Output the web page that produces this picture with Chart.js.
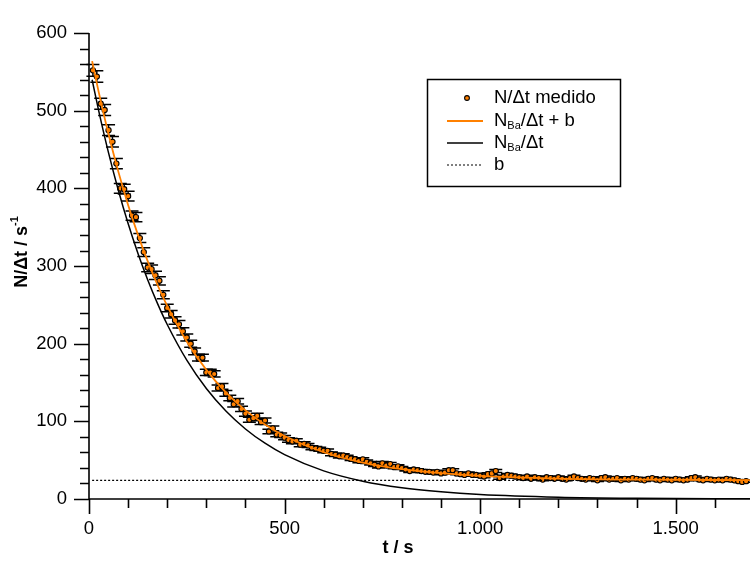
<!DOCTYPE html>
<html>
<head>
<meta charset="utf-8">
<script src="https://cdn.jsdelivr.net/npm/chart.js@4/dist/chart.umd.min.js"></script>
<style>
  html, body { margin: 0; padding: 0; background: #fff; }
  canvas { display: block; }
</style>
</head>
<body>
<canvas id="c" width="750" height="562"></canvas>
<script>
// Counting-rate decay measurement (10 s bins) and exponential fit
const BIN_WIDTH = 10; // s

const tMeasured = [
  10, 20, 30, 40, 50, 60, 70, 80, 90, 100,
  110, 120, 130, 140, 150, 160, 170, 180, 190, 200,
  210, 220, 230, 240, 250, 260, 270, 280, 290, 300,
  310, 320, 330, 340, 350, 360, 370, 380, 390, 400,
  410, 420, 430, 440, 450, 460, 470, 480, 490, 500,
  510, 520, 530, 540, 550, 560, 570, 580, 590, 600,
  610, 620, 630, 640, 650, 660, 670, 680, 690, 700,
  710, 720, 730, 740, 750, 760, 770, 780, 790, 800,
  810, 820, 830, 840, 850, 860, 870, 880, 890, 900,
  910, 920, 930, 940, 950, 960, 970, 980, 990, 1000,
  1010, 1020, 1030, 1040, 1050, 1060, 1070, 1080, 1090, 1100,
  1110, 1120, 1130, 1140, 1150, 1160, 1170, 1180, 1190, 1200,
  1210, 1220, 1230, 1240, 1250, 1260, 1270, 1280, 1290, 1300,
  1310, 1320, 1330, 1340, 1350, 1360, 1370, 1380, 1390, 1400,
  1410, 1420, 1430, 1440, 1450, 1460, 1470, 1480, 1490, 1500,
  1510, 1520, 1530, 1540, 1550, 1560, 1570, 1580, 1590, 1600,
  1610, 1620, 1630, 1640, 1650, 1660, 1670, 1680
];

const rateMeasured = [
  552, 544, 509, 501, 475, 460, 432, 400, 399, 390,
  365, 363, 336, 318, 298, 296, 288, 281, 263, 246,
  238, 230, 225, 216, 208, 200, 190, 182, 182, 163,
  163, 161, 143, 145, 136, 130, 122, 126, 116, 110,
  102, 104, 107, 99, 101, 87, 91, 83, 82, 79,
  76, 74, 75, 70, 71, 69, 66, 65, 64, 62,
  62, 58, 57, 55, 56, 54, 52, 51, 49, 51,
  48, 46, 44, 42, 46, 43, 45, 41, 42, 40,
  38, 36, 38, 37, 36, 35, 35, 34, 35, 33,
  34, 37, 37, 33, 32, 31, 33, 31, 31, 30,
  29, 32, 33, 36, 27, 29, 31, 30, 29, 28,
  27, 29, 26, 28, 27, 25, 28, 27, 26, 28,
  26, 25, 27, 29, 27, 26, 25, 27, 26, 24,
  27, 28, 25, 26, 27, 24, 26, 25, 27, 26,
  25, 24, 26, 27, 25, 24, 26, 25, 24, 26,
  25, 24, 25, 27, 28, 25, 24, 26, 25, 24,
  25, 24, 26, 25, 24, 23, 22, 23
];

// Fitted curves sampled along t
const tFit = [8, 25, 50, 75, 100, 125, 150, 175, 200, 250, 300, 350, 400, 450, 500,
              600, 700, 800, 900, 1000, 1200, 1400, 1690];
const rateFitTotal = [563.9, 523.6, 469.7, 421.6, 378.7, 340.5, 306.3, 275.9, 248.7, 202.8,
                      166.3, 137.3, 114.2, 95.8, 81.1, 60.2, 46.9, 38.5, 33.2, 29.8,
                      26.3, 24.9, 24.3];
const rateFitBa = [539.9, 499.6, 445.7, 397.6, 354.7, 316.5, 282.3, 251.9, 224.7, 178.8,
                   142.3, 113.3, 90.2, 71.8, 57.1, 36.2, 22.9, 14.5, 9.2, 5.8,
                   2.3, 0.9, 0.25];
const tBackground = [8, 1690];
const rateBackground = [24, 24];

const xTickValues = [0, 100, 200, 300, 400, 500, 600, 700, 800, 900, 1000,
                     1100, 1200, 1300, 1400, 1500, 1600];
const yTickValues = [0, 20, 40, 60, 80, 100, 120, 140, 160, 180, 200, 220, 240, 260,
                     280, 300, 320, 340, 360, 380, 400, 420, 440, 460, 480, 500,
                     520, 540, 560, 580, 600];
const xLabelled = [0, 500, 1000, 1500];
const yLabelled = [0, 100, 200, 300, 400, 500, 600];

const ORANGE = '#ff8000';
const FONT = '"Liberation Sans", Arial, sans-serif';
const TICK_SIZE = 18.5;
const TEXT_SIZE = 18.5;

const toXY = (xs, ys) => xs.map((x, i) => ({ x: x, y: ys[i] }));
const fmtThousands = v => String(v).replace(/\B(?=(\d{3})+(?!\d))/g, '.');

// Poisson uncertainty of a rate measured in one bin
const rateError = r => Math.sqrt(r * BIN_WIDTH) / BIN_WIDTH;

const errorBars = {
  id: 'errorBars',
  beforeDatasetDraw(chart, args) {
    if (args.index !== 0) return;
    const { ctx, scales: { x, y } } = chart;
    ctx.save();
    ctx.strokeStyle = '#000';
    ctx.lineWidth = 1.5;
    const cap = 6.5;
    tMeasured.forEach((t, i) => {
      const r = rateMeasured[i];
      const e = rateError(r);
      const px = x.getPixelForValue(t);
      const top = y.getPixelForValue(r + e);
      const bot = y.getPixelForValue(r - e);
      ctx.beginPath();
      ctx.moveTo(px, top); ctx.lineTo(px, bot);
      ctx.moveTo(px - cap, top); ctx.lineTo(px + cap, top);
      ctx.moveTo(px - cap, bot); ctx.lineTo(px + cap, bot);
      ctx.stroke();
    });
    ctx.restore();
  }
};

function drawRich(ctx, parts, x, y, size, weight) {
  // parts: [text, 'n' | 'sub' | 'sup']
  let cx = x;
  parts.forEach(([txt, kind]) => {
    const s = kind === 'n' ? size : Math.round(size * 0.62);
    const dy = kind === 'sub' ? size * 0.28 : kind === 'sup' ? -size * 0.38 : 0;
    ctx.font = `${weight} ${s}px ${FONT}`;
    ctx.fillText(txt, cx, y + dy);
    cx += ctx.measureText(txt).width;
  });
  return cx - x;
}

function richWidth(ctx, parts, size, weight) {
  let w = 0;
  parts.forEach(([txt, kind]) => {
    const s = kind === 'n' ? size : Math.round(size * 0.62);
    ctx.font = `${weight} ${s}px ${FONT}`;
    w += ctx.measureText(txt).width;
  });
  return w;
}

const axesAndDecor = {
  id: 'axesAndDecor',
  afterDraw(chart) {
    const { ctx, scales: { x, y } } = chart;
    const x0 = x.getPixelForValue(0);
    const y0 = y.getPixelForValue(0);
    const yTop = y.getPixelForValue(600);
    ctx.save();
    ctx.strokeStyle = '#000';
    ctx.lineWidth = 1.6;
    ctx.beginPath();
    ctx.moveTo(x0, yTop); ctx.lineTo(x0, y0);
    ctx.moveTo(x0, y0); ctx.lineTo(chart.width, y0);
    yTickValues.forEach(v => {
      const len = yLabelled.includes(v) ? 15 : 9;
      const py = Math.round(y.getPixelForValue(v)) + 0.5;
      ctx.moveTo(x0 - len, py); ctx.lineTo(x0, py);
    });
    xTickValues.forEach(v => {
      const len = xLabelled.includes(v) ? 15 : 9;
      const px = Math.round(x.getPixelForValue(v)) + 0.5;
      ctx.moveTo(px, y0); ctx.lineTo(px, y0 + len);
    });
    ctx.stroke();

    // axis titles
    ctx.fillStyle = '#000';
    ctx.textBaseline = 'middle';
    ctx.textAlign = 'left';
    const xt = [['t / s', 'n']];
    const xw = richWidth(ctx, xt, 18, 'bold');
    drawRich(ctx, xt, 398 - xw / 2, 548, 18, 'bold');

    ctx.save();
    ctx.translate(22, 252);
    ctx.rotate(-Math.PI / 2);
    const yt = [['N/\u0394t / s', 'n'], ['-1', 'sup']];
    const yw = richWidth(ctx, yt, 18, 'bold');
    drawRich(ctx, yt, -yw / 2, 0, 18, 'bold');
    ctx.restore();

    // legend
    const lx = 427.5, ly = 79.5, lw = 193, lh = 107;
    ctx.lineWidth = 1.5;
    ctx.strokeRect(lx, ly, lw, lh);
    const rows = [98, 121, 143, 165];
    const sx0 = 447, sx1 = 483, tx = 494;
    // data marker
    ctx.beginPath();
    ctx.arc(467, rows[0], 2.4, 0, Math.PI * 2);
    ctx.fillStyle = ORANGE;
    ctx.fill();
    ctx.lineWidth = 1.1;
    ctx.strokeStyle = '#000';
    ctx.stroke();
    // orange line
    ctx.beginPath();
    ctx.strokeStyle = ORANGE; ctx.lineWidth = 1.8;
    ctx.moveTo(sx0, rows[1]); ctx.lineTo(sx1, rows[1]); ctx.stroke();
    // black line
    ctx.beginPath();
    ctx.strokeStyle = '#000'; ctx.lineWidth = 1.5;
    ctx.moveTo(sx0, rows[2]); ctx.lineTo(sx1, rows[2]); ctx.stroke();
    // dotted line
    ctx.beginPath();
    ctx.setLineDash([2, 2]); ctx.lineWidth = 1.2;
    ctx.moveTo(sx0, rows[3]); ctx.lineTo(sx1, rows[3]); ctx.stroke();
    ctx.setLineDash([]);

    ctx.fillStyle = '#000';
    drawRich(ctx, [['N/\u0394t medido', 'n']], tx, rows[0], TEXT_SIZE, 'normal');
    drawRich(ctx, [['N', 'n'], ['Ba', 'sub'], ['/\u0394t + b', 'n']], tx, rows[1], TEXT_SIZE, 'normal');
    drawRich(ctx, [['N', 'n'], ['Ba', 'sub'], ['/\u0394t', 'n']], tx, rows[2], TEXT_SIZE, 'normal');
    drawRich(ctx, [['b', 'n']], tx, rows[3], TEXT_SIZE, 'normal');
    ctx.restore();
  }
};

new Chart(document.getElementById('c'), {
  type: 'scatter',
  data: {
    datasets: [
      {
        label: 'N/\u0394t medido',
        data: toXY(tMeasured, rateMeasured),
        showLine: false,
        pointRadius: 2.6,
        pointBackgroundColor: ORANGE,
        pointBorderColor: '#000',
        pointBorderWidth: 1.1,
        order: 3
      },
      {
        label: 'b',
        data: toXY(tBackground, rateBackground),
        showLine: true,
        borderColor: '#000',
        borderWidth: 1.2,
        borderDash: [2, 2],
        pointRadius: 0,
        order: 2
      },
      {
        label: 'N_Ba/\u0394t',
        data: toXY(tFit, rateFitBa),
        showLine: true,
        borderColor: '#000',
        borderWidth: 1.5,
        pointRadius: 0,
        cubicInterpolationMode: 'monotone',
        order: 1
      },
      {
        label: 'N_Ba/\u0394t + b',
        data: toXY(tFit, rateFitTotal),
        showLine: true,
        borderColor: ORANGE,
        borderWidth: 1.8,
        pointRadius: 0,
        cubicInterpolationMode: 'monotone',
        order: 0
      }
    ]
  },
  options: {
    responsive: false,
    animation: false,
    events: [],
    layout: { autoPadding: false, padding: { top: 13, right: 0, bottom: 0, left: 0 } },
    plugins: { legend: { display: false }, tooltip: { enabled: false } },
    scales: {
      x: {
        type: 'linear',
        min: 0,
        max: 1690,
        grid: { display: false, drawTicks: false },
        border: { display: false },
        afterFit: s => { s.height = 63; },
        afterBuildTicks: s => { s.ticks = xTickValues.map(v => ({ value: v })); },
        ticks: {
          autoSkip: false,
          maxRotation: 0,
          padding: 19,
          color: '#000',
          font: { family: FONT, size: TICK_SIZE },
          callback: v => (xLabelled.includes(v) ? fmtThousands(v) : '')
        }
      },
      y: {
        type: 'linear',
        min: 0,
        max: 600,
        grid: { display: false, drawTicks: false },
        border: { display: false },
        afterFit: s => { s.width = 89; },
        afterBuildTicks: s => { s.ticks = yTickValues.map(v => ({ value: v })); },
        ticks: {
          autoSkip: false,
          padding: 22,
          color: '#000',
          font: { family: FONT, size: TICK_SIZE },
          callback: v => (yLabelled.includes(v) ? String(v) : '')
        }
      }
    }
  },
  plugins: [errorBars, axesAndDecor]
});
</script>
</body>
</html>
